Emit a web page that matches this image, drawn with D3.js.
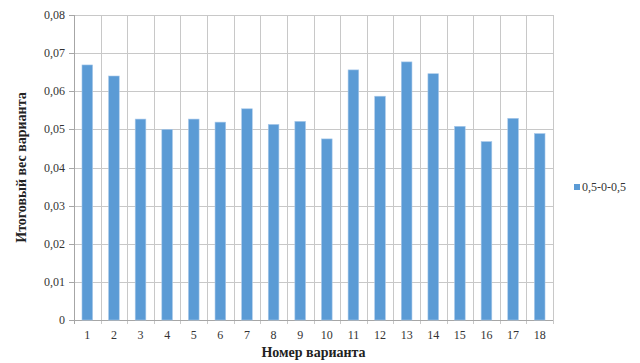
<!DOCTYPE html>
<html><head><meta charset="utf-8">
<script src="https://cdn.jsdelivr.net/npm/d3@7"></script>
<style>body{margin:0;background:#fff;} text{font-family:'Liberation Serif','Times New Roman','DejaVu Serif',serif;}</style>
</head><body><svg id="c" width="640" height="363" style="display:block"></svg>
<script>
const categories = ["1","2","3","4","5","6","7","8","9","10","11","12","13","14","15","16","17","18"];
const values = [0.0669,0.0640,0.0527,0.0500,0.0527,0.0519,0.0554,0.0513,0.0521,0.0475,0.0656,0.0587,0.0677,0.0646,0.0508,0.0468,0.0529,0.0489];
const yTicks = [0,0.01,0.02,0.03,0.04,0.05,0.06,0.07,0.08];
const yTickLabels = ["0","0,01","0,02","0,03","0,04","0,05","0,06","0,07","0,08"];
const seriesName = "0,5-0-0,5";
const xTitle = "Номер варианта";
const yTitle = "Итоговый вес варианта";

const FONT = "'Liberation Serif','Times New Roman','DejaVu Serif',serif";
const svg = d3.select("#c");
const L = 74, R = 553, T = 15, B = 320;
const x = d3.scaleBand().domain(categories).range([L, R]).paddingInner(0.6).paddingOuter(0.3);
const xb = d3.scaleBand().domain(categories).range([L, R]);
const y = d3.scaleLinear().domain([0, 0.08]).range([B, T]);

svg.append("g").selectAll("line").data(yTicks).join("line")
  .attr("x1", L).attr("x2", R).attr("y1", d => Math.round(y(d)) + 0.5).attr("y2", d => Math.round(y(d)) + 0.5)
  .attr("stroke", "#c8c8c8").attr("stroke-width", 1);
const bounds = categories.map(c => xb(c)).concat([R]);
svg.append("g").selectAll("line").data(bounds).join("line")
  .attr("x1", d => Math.round(d) + 0.5).attr("x2", d => Math.round(d) + 0.5).attr("y1", T).attr("y2", B + 4)
  .attr("stroke", (d, i) => i === 0 ? "#a6a6a6" : "#c8c8c8").attr("stroke-width", 1);
svg.append("g").selectAll("line").data(yTicks).join("line")
  .attr("x1", L - 5).attr("x2", L).attr("y1", d => Math.round(y(d)) + 0.5).attr("y2", d => Math.round(y(d)) + 0.5)
  .attr("stroke", "#a6a6a6");
svg.append("line").attr("x1", L - 5).attr("x2", R).attr("y1", B + 0.5).attr("y2", B + 0.5).attr("stroke", "#a6a6a6");

svg.append("g").selectAll("rect").data(values).join("rect")
  .attr("x", (d, i) => x(categories[i])).attr("width", x.bandwidth())
  .attr("y", d => y(d)).attr("height", d => B - y(d))
  .attr("fill", "#5b9bd5").attr("stroke", "#a9c9ea").attr("stroke-width", 0.6);

svg.append("g").selectAll("text").data(yTicks).join("text")
  .attr("x", 65).attr("y", d => y(d) + 4).attr("text-anchor", "end").attr("font-family", FONT)
  .attr("font-size", 12).attr("fill", "#333").text((d, i) => yTickLabels[i]);
svg.append("g").selectAll("text").data(categories).join("text")
  .attr("x", d => xb(d) + xb.bandwidth() / 2).attr("y", 339).attr("text-anchor", "middle").attr("font-family", FONT)
  .attr("font-size", 12).attr("fill", "#333").text(d => d);

svg.append("text").attr("x", (L + R) / 2).attr("y", 357).attr("text-anchor", "middle").attr("font-family", FONT)
  .attr("font-size", 14).attr("font-weight", "bold").attr("fill", "#222").text(xTitle);
svg.append("text").attr("transform", `translate(26,${(T + B) / 2}) rotate(-90)`).attr("text-anchor", "middle").attr("font-family", FONT)
  .attr("font-size", 14).attr("font-weight", "bold").attr("fill", "#222").text(yTitle);

svg.append("rect").attr("x", 574).attr("y", 184).attr("width", 6).attr("height", 6).attr("fill", "#5b9bd5");
svg.append("text").attr("x", 582).attr("y", 191).attr("font-family", FONT).attr("font-size", 12).attr("fill", "#333").text(seriesName);
</script></body></html>
